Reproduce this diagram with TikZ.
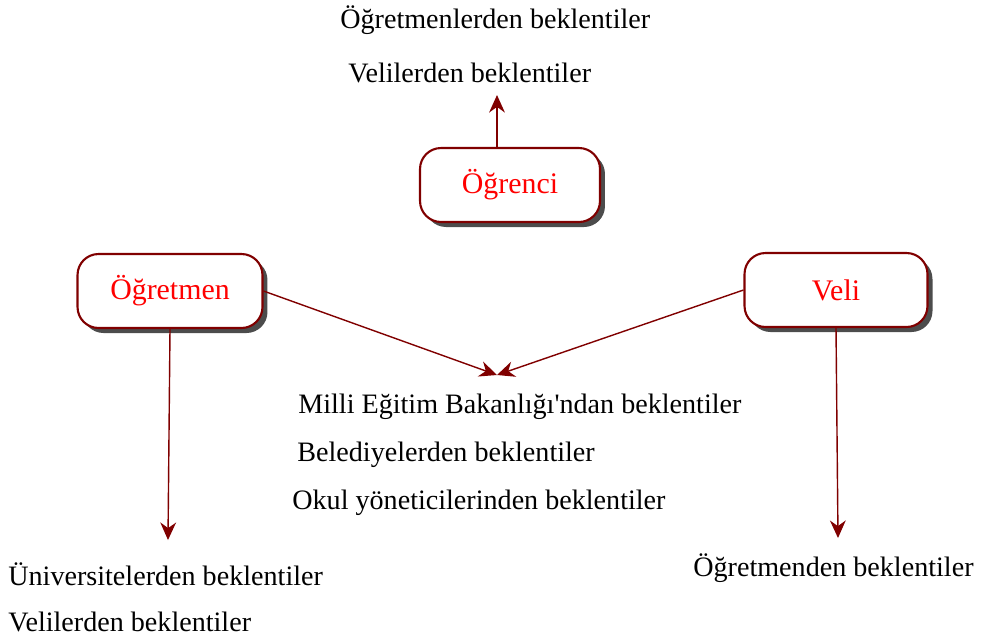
\documentclass[tikz,border=0pt]{standalone}
\usepackage{fontspec}
\setmainfont{Liberation Serif}
\usepackage{tikz}
\usetikzlibrary{arrows.meta, shadows, positioning}
\definecolor{koyu}{RGB}{128, 0, 0}

\begin{document}
\begin{tikzpicture}[x=0.02cm, y=-0.02cm,
		kutu/.style={draw=koyu, line width=1.2pt, rounded corners=0.42cm, fill=white,
			minimum height=1.48cm, text=red, font=\fontsize{17}{20}\selectfont,
			drop shadow={shadow xshift=0.1cm, shadow yshift=-0.1cm, fill=black!70, opacity=1}},
		yazi/.style={anchor=west, inner sep=0pt, font=\fontsize{16}{19}\selectfont},
		ok/.style={draw=koyu, line width=0.8pt, -{Stealth[length=10pt, width=9pt]}}]
	\useasboundingbox (0,0) rectangle (982,637);
	% Kutular
	\node[kutu, minimum width=3.6cm] (ogrenci) at (510,185) {Öğrenci};
	\node[kutu, minimum width=3.7cm] (ogretmen) at (170,291) {Öğretmen};
	\node[kutu, minimum width=3.66cm] (veli) at (836,290) {Veli};
	
	% Beklentiler
	\node[yazi] (ogretmenler) at (340,20) {Öğretmenlerden beklentiler};
	\node[yazi] (veliler1) at (348,73) {Velilerden beklentiler};
	\node[yazi] (meb) at (298,407) {Milli Eğitim Bakanlığı\textquotesingle ndan beklentiler};
	\node[yazi] (belediye) at (297,455) {Belediyelerden beklentiler};
	\node[yazi] (okul) at (292,503) {Okul yöneticilerinden beklentiler};
	\node[yazi] (universite) at (8,574) {Üniversitelerden beklentiler};
	\node[yazi] (veliler2) at (8,622) {Velilerden beklentiler};
	\node[yazi] (ogretmenden) at (693,568) {Öğretmenden beklentiler};
	
	% Oklar
	\coordinate (ust) at (497,95);
	\coordinate (orta) at (497,375);
	\coordinate (sol) at (168,540);
	\coordinate (sag) at (838,538);
	\draw[ok] (ogrenci.north -| ust) -- (ust);
	\draw[ok] (ogretmen.east) -- (orta);
	\draw[ok] (veli.west) -- (orta);
	\draw[ok] (ogretmen.south) -- (sol);
	\draw[ok] (veli.south) -- (sag);
\end{tikzpicture}
\end{document}
